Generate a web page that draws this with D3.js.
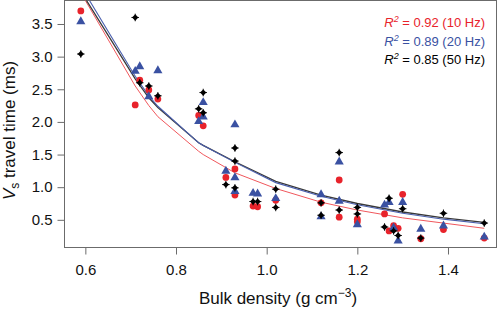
<!DOCTYPE html>
<meta charset="utf-8">
<script src="https://d3js.org/d3.v7.min.js"></script>
<style>
  body { margin: 0; background: #fff; }
  text { font-family: "Liberation Sans", Arial, Helvetica, sans-serif; }
</style>
<div id="chart"></div>
<script>

// --- data ---
// 10 Hz (red circles)
var densRed = [0.59, 0.71, 0.72, 0.74, 0.76, 0.85, 0.86, 0.91, 0.93, 0.93, 0.97, 0.98, 1.02, 1.12, 1.16, 1.16, 1.20, 1.20, 1.26, 1.27, 1.28, 1.29, 1.30, 1.34, 1.39, 1.48];
var timeRed = [3.70, 2.26, 2.64, 2.49, 2.35, 2.10, 1.94, 1.15, 1.28, 0.88, 0.71, 0.70, 0.80, 0.76, 1.11, 0.54, 0.51, 0.47, 0.59, 0.33, 0.41, 0.37, 0.89, 0.21, 0.35, 0.22];
// 20 Hz (blue triangles)
var densBlue = [0.59, 0.71, 0.72, 0.74, 0.76, 0.85, 0.86, 0.86, 0.91, 0.93, 0.93, 0.93, 0.97, 0.98, 1.02, 1.12, 1.12, 1.16, 1.16, 1.20, 1.26, 1.27, 1.28, 1.29, 1.30, 1.34, 1.39, 1.48];
var timeBlue = [3.53, 2.77, 2.84, 2.38, 2.78, 2.00, 2.29, 2.07, 1.24, 1.95, 1.14, 0.93, 0.90, 0.89, 0.82, 0.88, 0.54, 1.38, 0.78, 0.42, 0.72, 0.76, 0.37, 0.17, 0.76, 0.35, 0.40, 0.23];
// 50 Hz (black diamonds)
var densBlack = [0.59, 0.71, 0.72, 0.74, 0.76, 0.85, 0.86, 0.86, 0.91, 0.93, 0.93, 0.93, 0.97, 0.98, 1.02, 1.02, 1.12, 1.12, 1.16, 1.16, 1.20, 1.20, 1.26, 1.27, 1.28, 1.29, 1.30, 1.34, 1.39, 1.48];
var timeBlack = [3.04, 3.60, 2.60, 2.55, 2.40, 2.20, 2.45, 2.14, 1.04, 1.60, 1.40, 0.99, 0.78, 0.78, 0.97, 0.69, 0.76, 0.57, 1.53, 0.65, 0.69, 0.59, 0.39, 0.83, 0.33, 0.26, 0.67, 0.22, 0.60, 0.45];

// fitted curves (read at the sample densities)
var fitDens  = [0.59, 0.71, 0.74, 0.76, 0.85, 0.86, 0.93, 1.02, 1.12, 1.20, 1.30, 1.39, 1.48];
var fitRed   = [3.98, 2.55, 2.25, 2.08, 1.55, 1.50, 1.22, 0.98, 0.77, 0.65, 0.53, 0.45, 0.37];
var fitBlue  = [4.08, 2.70, 2.40, 2.24, 1.68, 1.64, 1.38, 1.07, 0.86, 0.73, 0.60, 0.51, 0.44];
var fitBlack = [4.00, 2.66, 2.37, 2.22, 1.68, 1.64, 1.39, 1.09, 0.88, 0.75, 0.62, 0.53, 0.46];

var xTicks = [0.6, 0.8, 1.0, 1.2, 1.4];
var yTicks = [0.5, 1.0, 1.5, 2.0, 2.5, 3.0, 3.5];
var legendLabels = [" = 0.92 (10 Hz)", " = 0.89 (20 Hz)", " = 0.85 (50 Hz)"];

var RED = "#e8232b", BLUE = "#3a51a2", BLACK = "#000";
var legendColors = [RED, BLUE, BLACK];

// --- dimensions ---
var margin = {top: 0.5, right: 3.5, bottom: 61.5, left: 64.5},
    width = 500 - margin.left - margin.right,
    height = 309 - margin.top - margin.bottom;

var svg = d3.select("#chart")
  .append("svg")
    .attr("width", 500)
    .attr("height", 309)
  .append("g")
    .attr("transform", "translate(" + margin.left + "," + margin.top + ")");

var x = d3.scaleLinear()
  .domain([0.554, 1.507])
  .range([0, width]);

var y = d3.scaleLinear()
  .domain([0.076, 3.86])
  .range([height, 0]);

svg.append("clipPath")
    .attr("id", "plotclip")
  .append("rect")
    .attr("width", width)
    .attr("height", height);

// box around the plot
svg.append("rect")
    .attr("width", width)
    .attr("height", height)
    .style("fill", "none")
    .style("stroke", "#6b6b6b")
    .style("stroke-width", 1);

// X axis
var xAxis = svg.append("g")
  .attr("transform", "translate(0," + height + ")")
  .call(d3.axisBottom(x).tickValues(xTicks).tickSize(7).tickPadding(10).tickFormat(d3.format(".1f")));
xAxis.select(".domain").remove();
xAxis.selectAll("line").style("stroke", "#6b6b6b");
xAxis.selectAll("text").style("font-size", "15px").style("fill", "#111");

// Y axis
var yAxis = svg.append("g")
  .call(d3.axisLeft(y).tickValues(yTicks).tickSize(7).tickPadding(5).tickFormat(d3.format(".1f")));
yAxis.select(".domain").remove();
yAxis.selectAll("line").style("stroke", "#6b6b6b");
yAxis.selectAll("text").style("font-size", "15px").style("fill", "#111");

// X axis label
var xl = svg.append("text")
    .attr("text-anchor", "middle")
    .attr("x", 278 - margin.left)
    .attr("y", 304 - margin.top)
    .style("font-size", "17px")
    .style("fill", "#111")
    .text("Bulk density (g cm");
xl.append("tspan").attr("dy", -7).style("font-size", "12px").text("\u22123");
xl.append("tspan").attr("dy", 7).text(")");

// Y axis label
var yl = svg.append("text")
    .attr("text-anchor", "middle")
    .attr("transform", "translate(" + (15 - margin.left) + "," + 130 + ") rotate(-90)")
    .style("font-size", "17px")
    .style("fill", "#111");
yl.append("tspan").style("font-style", "italic").text("V");
yl.append("tspan").attr("dy", 4).style("font-size", "12px").text("s");
yl.append("tspan").attr("dy", -4).text(" travel time (ms)");

// fitted lines
var plot = svg.append("g").attr("clip-path", "url(#plotclip)");

function drawFit(vals, color, w) {
  var line = d3.line()
    .x(function(d, i) { return x(fitDens[i]); })
    .y(function(d) { return y(d); });
  plot.append("path")
    .datum(vals)
    .attr("d", line)
    .style("fill", "none")
    .style("stroke", color)
    .style("stroke-width", w);
}
drawFit(fitRed, "#f0575c", 1.0);
drawFit(fitBlack, "#3a3a3a", 1.3);
drawFit(fitBlue, "#4a5fae", 1.1);

// points
plot.append("g")
  .selectAll("circle")
  .data(densRed)
  .enter()
  .append("circle")
    .attr("cx", function(d) { return x(d); })
    .attr("cy", function(d, i) { return y(timeRed[i]); })
    .attr("r", 3.4)
    .style("fill", RED);

plot.append("g")
  .selectAll("path")
  .data(densBlue)
  .enter()
  .append("path")
    .attr("d", d3.symbol().type(d3.symbolTriangle).size(36))
    .attr("transform", function(d, i) { return "translate(" + x(d) + "," + (y(timeBlue[i]) - 0.5) + ")"; })
    .style("fill", BLUE);

// black markers: small filled diamond with short arms
var blk = plot.append("g")
  .selectAll("g")
  .data(densBlack)
  .enter()
  .append("g")
    .attr("transform", function(d, i) { return "translate(" + x(d) + "," + y(timeBlack[i]) + ")"; });
blk.append("path")
    .attr("d", d3.symbol().type(d3.symbolSquare).size(20))
    .attr("transform", "rotate(45)")
    .style("fill", BLACK);
blk.append("path")
    .attr("d", "M-3.8,0H3.8M0,-3.8V3.8")
    .style("stroke", BLACK)
    .style("stroke-width", 0.9);

// legend
var leg = svg.append("g");
legendLabels.forEach(function(lab, i) {
  var t = leg.append("text")
      .attr("text-anchor", "end")
      .attr("x", 485 - margin.left)
      .attr("y", 27 + i * 18.5 - margin.top)
      .style("font-size", "13px")
      .style("fill", legendColors[i]);
  t.append("tspan").style("font-style", "italic").text("R");
  t.append("tspan").attr("dy", -5).style("font-size", "9px").style("font-style", "italic").text("2");
  t.append("tspan").attr("dy", 5).text(lab);
});

</script>
